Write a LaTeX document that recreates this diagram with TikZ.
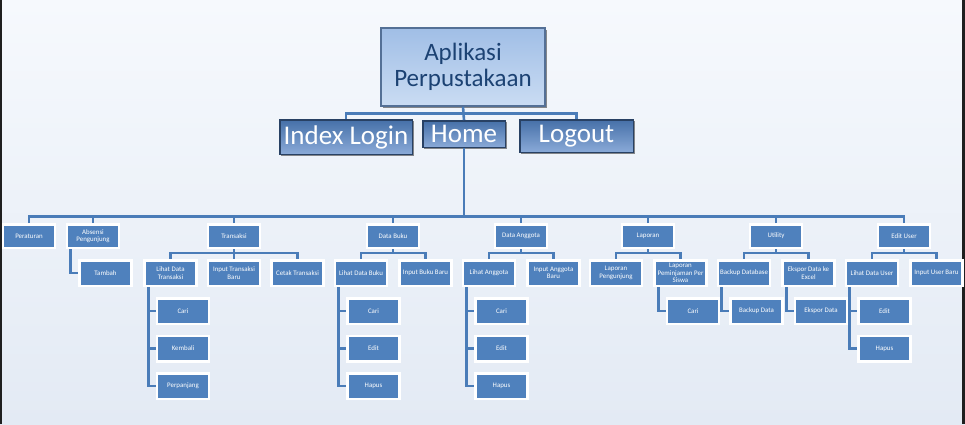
\documentclass[tikz,border=0pt]{standalone}
\usepackage{fontspec}
\setmainfont{Carlito}
\usetikzlibrary{positioning,shadows}

\definecolor{itemblue}{RGB}{79,129,189}
\definecolor{lineblue}{RGB}{74,124,184}
\definecolor{titletext}{RGB}{28,66,115}

\begin{document}
\begin{tikzpicture}[x=1pt,y=-1pt,node distance=9pt,
    item/.style={rectangle,fill=itemblue,draw=white,line width=2.5pt,minimum width=52pt,minimum height=25.5pt,inner sep=1pt,align=center,text=white,font=\fontsize{6.9}{7.5}\selectfont},
    menu/.style={item,minimum height=23.5pt},
    conn/.style={draw=lineblue,line width=2.6pt},
    glossy/.style={rectangle,draw={rgb,255:red,40;green,65;blue,100},line width=1.5pt,top color={rgb,255:red,70;green,112;blue,168},bottom color={rgb,255:red,138;green,170;blue,216},text=white,inner sep=1pt,font=\fontsize{27}{28}\selectfont,drop shadow={shadow xshift=1.5pt,shadow yshift=-1.5pt,fill=black,opacity=0.45}}]

    % background
    \useasboundingbox (0,0) rectangle (965,424);
    \shade[top color={rgb,255:red,246;green,249;blue,253},bottom color={rgb,255:red,227;green,234;blue,244}] (0,0) rectangle (965,424);
    \fill[black!88] (0,0) rectangle (2,424);
    \fill[black!88] (962,0) rectangle (965,424);

    % top
    \node[rectangle,draw={rgb,255:red,84;green,112;blue,150},line width=1.5pt,top color={rgb,255:red,160;green,190;blue,230},bottom color={rgb,255:red,202;green,220;blue,243},text=titletext,align=center,font=\fontsize{25}{26}\selectfont,minimum width=164pt,minimum height=78pt,drop shadow={shadow xshift=1.5pt,shadow yshift=-1.5pt,fill=black,opacity=0.45}] (app) at (463,67) {Aplikasi\\Perpustakaan};
    \node[glossy,minimum width=132.5pt,minimum height=34.5pt] (login) at (346,137) {Index Login};
    \node[glossy,minimum width=82.5pt,minimum height=26.5pt] (home) at (464,134) {Home};
    \node[glossy,minimum width=113.5pt,minimum height=32.5pt] (logout) at (576.5,136) {Logout};

    % menus
    \node[menu] (aturan) at (29,236) {Peraturan};
    \node[menu] (absensi) at (93,236) {Absensi\\Pengunjung};
    \node[menu] (transaksi) at (234,236) {Transaksi};
    \node[menu] (buku) at (393,236) {Data Buku};
    \node[menu] (anggota) at (521,236) {Data Anggota};
    \node[menu] (laporan) at (648,236) {Laporan};
    \node[menu] (utility) at (776,236) {Utility};
    \node[menu] (edituser) at (904,236) {Edit User};

    % sub menus
    \node[item] (inputtrans) [below=10pt of transaksi] {Input Transaksi\\Baru};
    \node[item] (lihattrans) [left=of inputtrans] {Lihat Data\\Transaksi};
    \node[item] (cetaktrans) [right=of inputtrans] {Cetak Transaksi};

    \node[item] (lihatbuku) [below=10pt of buku,xshift=-32pt] {Lihat Data Buku};
    \node[item] (inputbuku) [right=10pt of lihatbuku] {Input Buku Baru};

    \node[item] (lihatagt) [below=10pt of anggota,xshift=-32pt] {Lihat Anggota};
    \node[item] (inputagt) [right=10pt of lihatagt] {Input Anggota\\Baru};

    \node[item] (lapkunjung) [below=10pt of laporan,xshift=-32pt] {Laporan\\Pengunjung};
    \node[item] (lappinjam) [right=10pt of lapkunjung] {Laporan\\Peminjaman Per\\Siswa};

    \node[item] (backupdb) [below=10pt of utility,xshift=-32pt] {Backup Database};
    \node[item] (eksporxl) [right=10pt of backupdb] {Ekspor Data ke\\Excel};

    \node[item] (lihatuser) [below=10pt of edituser,xshift=-32pt] {Lihat Data User};
    \node[item] (inputuser) [right=10pt of lihatuser] {Input User Baru};

    % connectors
    \draw[conn] (app.south) -- ++(0,7) -| (login.north);
    \draw[conn] (app.south) -- (home.north);
    \draw[conn] (app.south) -- ++(0,7) -| (logout.north);

    \coordinate (bus) at (464,216.5);
    \draw[conn] (home.south) -- (bus);
    \foreach \menu in {aturan,absensi,transaksi,buku,anggota,laporan,utility,edituser}{
        \draw[conn] (\menu.north) |- (bus);
    }

    \foreach \up/\subs in {transaksi/{lihattrans,inputtrans,cetaktrans},buku/{lihatbuku,inputbuku},anggota/{lihatagt,inputagt},laporan/{lapkunjung,lappinjam},utility/{backupdb,eksporxl},edituser/{lihatuser,inputuser}}{
        \foreach \sub in \subs{
            \draw[conn] (\up.south) -- ++(0,4) -| (\sub.north);
        }
    }

    % side lists
    \foreach \up/\kids in {absensi/{Tambah},lihattrans/{Cari,Kembali,Perpanjang},lihatbuku/{Cari,Edit,Hapus},lihatagt/{Cari,Edit,Hapus},lappinjam/{Cari},backupdb/{Backup Data},eksporxl/{Ekspor Data},lihatuser/{Edit,Hapus}}{
        \foreach \txt [count=\i, evaluate=\i as \prev using {int(\i-1)}] in \kids{
            \ifnum\i=1
                \node[item] (\up-\i) [below=10pt of \up,xshift=12.5pt] {\txt};
            \else
                \node[item] (\up-\i) [below=9.5pt of \up-\prev] {\txt};
            \fi
            \draw[conn] ([xshift=5pt]\up.south west) |- (\up-\i.west);
        }
    }

\end{tikzpicture}
\end{document}
